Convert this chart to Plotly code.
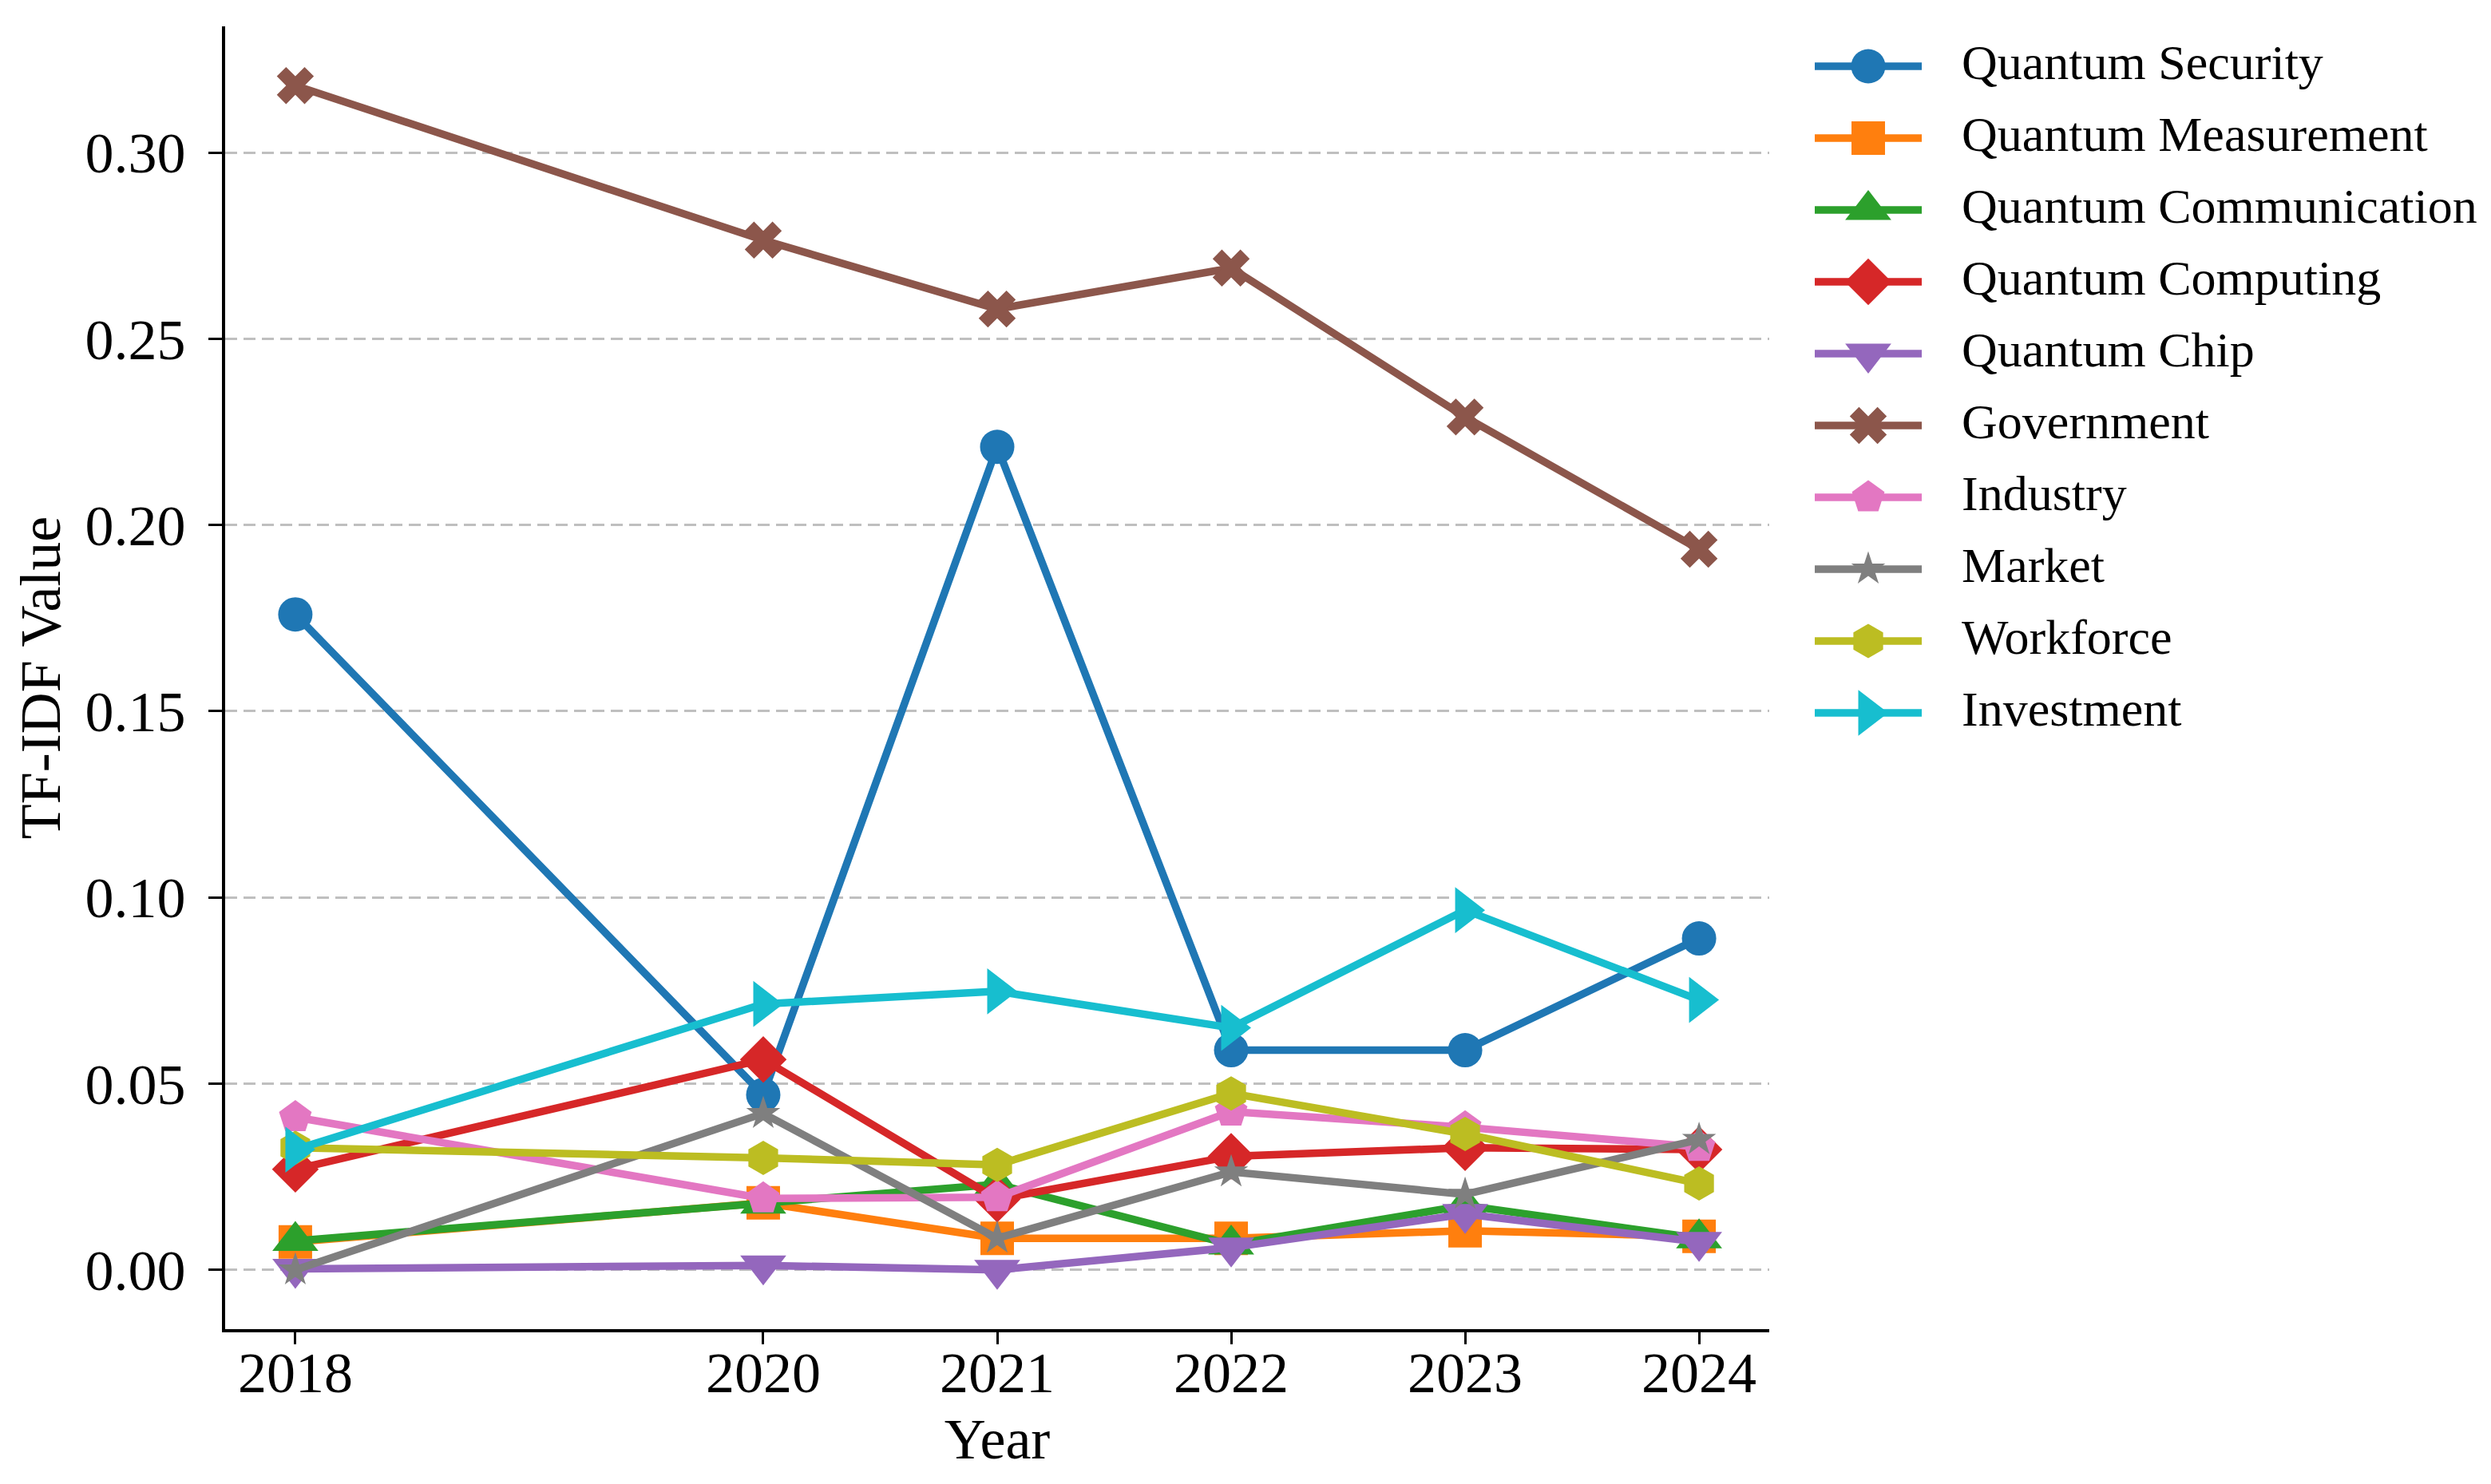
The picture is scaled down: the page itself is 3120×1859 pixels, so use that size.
import plotly.graph_objects as go

# ---------------- data ----------------
years = [2018, 2020, 2021, 2022, 2023, 2024]
year_labels = ["2018", "2020", "2021", "2022", "2023", "2024"]

series_names = [
    "Quantum Security", "Quantum Measurement", "Quantum Communication",
    "Quantum Computing", "Quantum Chip", "Government", "Industry",
    "Market", "Workforce", "Investment",
]

quantum_security = [0.176, 0.047, 0.221, 0.059, 0.059, 0.089]
quantum_measurement = [0.0075, 0.018, 0.0085, 0.0085, 0.0105, 0.009]
quantum_communication = [0.0078, 0.0178, 0.023, 0.0068, 0.0173, 0.0085]
quantum_computing = [0.027, 0.0565, 0.019, 0.0305, 0.0328, 0.0323]
quantum_chip = [0.0003, 0.0012, 0.0, 0.006, 0.015, 0.0075]
government = [0.318, 0.2765, 0.258, 0.269, 0.229, 0.1935]
industry = [0.041, 0.0192, 0.0195, 0.0425, 0.0383, 0.033]
market = [0.0, 0.042, 0.0085, 0.0263, 0.0203, 0.035]
workforce = [0.0328, 0.0301, 0.0282, 0.0474, 0.0365, 0.0232]
investment = [0.0323, 0.0714, 0.0748, 0.065, 0.0966, 0.0725]

series_values = [
    quantum_security, quantum_measurement, quantum_communication,
    quantum_computing, quantum_chip, government, industry,
    market, workforce, investment,
]

y_tick_vals = [0.00, 0.05, 0.10, 0.15, 0.20, 0.25, 0.30]

# ---------------- style ----------------
colors = ["#1f77b4", "#ff7f0e", "#2ca02c", "#d62728", "#9467bd",
          "#8c564b", "#e377c2", "#7f7f7f", "#bcbd22", "#17becf"]
symbols = ["circle", "square", "triangle-up", "diamond", "triangle-down",
           "x", "pentagon", "star", "hexagon", "triangle-right"]
marker_sizes = [43, 42, 50, 45, 50, 41, 43, 32, 43, 50]
LINE_W = 9.5

FONT = "Liberation Serif, Times New Roman, serif"
W, H = 3120, 1859
ML, MR, MT, MB = 274, 20, 25, 202
plot_w = W - ML - MR
main_right_px = 2208
x_dom_end = (main_right_px - ML) / plot_w

leg_handle_x0 = (2265 - ML) / plot_w
leg_handle_x1 = (2399 - ML) / plot_w
leg_text_x = (2447 - ML) / plot_w

# x range with 5% margins (matplotlib default)
xmin, xmax = min(years), max(years)
xpad = 0.05 * (xmax - xmin)
all_vals = [v for s in series_values for v in s]
ymin, ymax = min(all_vals), max(all_vals)
ypad = 0.05 * (ymax - ymin)

fig = go.Figure()

for name, vals, c, sym, ms in zip(series_names, series_values, colors, symbols, marker_sizes):
    fig.add_trace(go.Scatter(
        x=years, y=vals, mode="lines+markers", name=name,
        line=dict(color=c, width=LINE_W),
        marker=dict(symbol=sym, size=ms, color=c, opacity=1, line=dict(width=0)),
        showlegend=False,
    ))

# custom legend (long handles with full-size markers)
for i, (name, c, sym, ms) in enumerate(zip(series_names, colors, symbols, marker_sizes)):
    fig.add_trace(go.Scatter(
        x=[0, 0.5, 1], y=[i, i, i], xaxis="x2", yaxis="y2",
        mode="lines+markers", showlegend=False, hoverinfo="skip",
        line=dict(color=c, width=LINE_W),
        marker=dict(symbol=sym, size=[0, ms, 0], color=c, opacity=1, line=dict(width=0)),
    ))
    fig.add_annotation(
        x=leg_text_x, xref="paper", y=i, yref="y2",
        text=name, showarrow=False, xanchor="left", yanchor="middle",
        font=dict(family=FONT, size=62, color="black"), yshift=5,
    )

row_px = 90
first_row_px = 75
plot_h = H - MT - MB
top_val = -(first_row_px - MT) / row_px
bottom_val = top_val + plot_h / row_px

fig.update_layout(
    width=W, height=H,
    margin=dict(l=ML, r=MR, t=MT, b=MB),
    paper_bgcolor="white", plot_bgcolor="white",
    font=dict(family=FONT, size=72, color="black"),
    xaxis=dict(
        domain=[0, x_dom_end],
        range=[xmin - xpad, xmax + xpad],
        tickmode="array", tickvals=years, ticktext=year_labels,
        ticks="outside", ticklen=15, tickwidth=3, tickcolor="black",
        showline=True, linewidth=4, linecolor="black", mirror=False,
        showgrid=False, zeroline=False,
        tickfont=dict(family=FONT, size=72, color="black"),
        ticklabelstandoff=-26,
        title=dict(text="Year", font=dict(family=FONT, size=72, color="black"), standoff=18),
    ),
    yaxis=dict(
        range=[ymin - ypad, ymax + ypad],
        tickmode="array", tickvals=y_tick_vals, tickformat=".2f",
        ticks="outside", ticklen=17, tickwidth=3, tickcolor="black",
        showline=True, linewidth=4, linecolor="black", mirror=False,
        showgrid=True, gridcolor="rgba(170,170,170,0.75)", gridwidth=3,
        griddash="15px,8px", zeroline=False,
        tickfont=dict(family=FONT, size=72, color="black"),
        ticklabelstandoff=14,
        title=dict(text="TF-IDF Value", font=dict(family=FONT, size=72, color="black"), standoff=8),
    ),
    xaxis2=dict(domain=[leg_handle_x0, leg_handle_x1], range=[0, 1], visible=False,
                anchor="y2", fixedrange=True),
    yaxis2=dict(domain=[0, 1], range=[bottom_val, top_val], visible=False,
                anchor="x2", fixedrange=True),
    showlegend=False,
)

fig.write_html("out.html")
